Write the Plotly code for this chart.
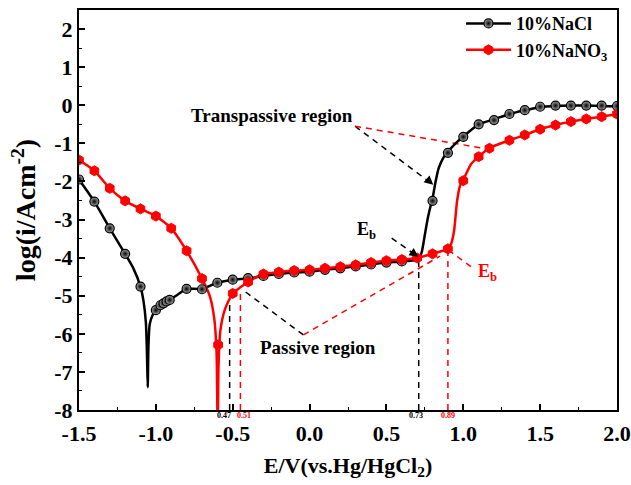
import plotly.graph_objects as go

# ---------------- data ----------------
nacl_line_x = [-1.50, -1.40, -1.30, -1.20, -1.15, -1.10, -1.08, -1.065, -1.058, -1.053, -1.048, -1.04,
               -1.02, -1.00, -0.97, -0.95, -0.91, -0.85, -0.80, -0.70, -0.60, -0.50, -0.40, -0.30,
               -0.20, -0.10, 0.00, 0.10, 0.20, 0.30, 0.40, 0.50, 0.60, 0.71, 0.73, 0.75, 0.77,
               0.79, 0.80, 0.82, 0.84, 0.87, 0.90, 0.95, 1.00, 1.10, 1.20, 1.30, 1.40, 1.50,
               1.60, 1.70, 1.80, 1.90, 2.00]
nacl_line_y = [-1.95, -2.53, -3.23, -3.90, -4.25, -4.76, -5.15, -5.70, -6.50, -7.40, -6.30, -5.75,
               -5.50, -5.38, -5.25, -5.20, -5.11, -4.95, -4.82, -4.82, -4.66, -4.58, -4.55, -4.48,
               -4.43, -4.39, -4.37, -4.32, -4.28, -4.23, -4.18, -4.13, -4.10, -4.04, -3.85, -3.40, -2.95,
               -2.60, -2.45, -2.00, -1.65, -1.38, -1.22, -1.00, -0.82, -0.50, -0.37, -0.23, -0.13, -0.05,
               -0.02, -0.01, -0.01, -0.02, -0.03]
nacl_mark_x = [-1.50, -1.40, -1.30, -1.20, -1.10, -1.00, -0.97, -0.95, -0.93, -0.91, -0.80, -0.70,
               -0.60, -0.50, -0.40, -0.30, -0.20, -0.10, 0.00, 0.10, 0.20, 0.30, 0.40, 0.50, 0.60,
               0.80, 0.90, 1.00, 1.10, 1.20, 1.30, 1.40, 1.50, 1.60, 1.70, 1.80, 1.90, 2.00]
nacl_mark_y = [-1.95, -2.53, -3.23, -3.90, -4.76, -5.38, -5.25, -5.20, -5.15, -5.11, -4.82, -4.83,
               -4.66, -4.58, -4.54, -4.48, -4.43, -4.39, -4.37, -4.32, -4.28, -4.23, -4.18, -4.13, -4.10,
               -2.51, -1.25, -0.83, -0.50, -0.39, -0.23, -0.13, -0.04, -0.01, -0.01, -0.01, -0.01, -0.02]

nano3_line_x = [-1.50, -1.40, -1.30, -1.20, -1.10, -1.00, -0.90, -0.80, -0.70, -0.65, -0.62, -0.605,
                -0.598, -0.592, -0.58, -0.55, -0.50, -0.45, -0.40, -0.30, -0.20, -0.10, 0.00, 0.10,
                0.20, 0.30, 0.40, 0.50, 0.60, 0.70, 0.80, 0.90, 0.92, 0.94, 0.95, 0.96, 0.98, 1.00,
                1.05, 1.10, 1.17, 1.20, 1.30, 1.40, 1.50, 1.60, 1.70, 1.80, 1.90, 2.00]
nano3_line_y = [-1.44, -1.72, -2.18, -2.51, -2.72, -2.91, -3.23, -3.82, -4.55, -5.00, -5.60, -6.50,
                -8.60, -6.80, -5.90, -5.35, -4.94, -4.78, -4.64, -4.43, -4.38, -4.34, -4.32, -4.28,
                -4.24, -4.19, -4.13, -4.08, -4.05, -4.01, -3.90, -3.77, -3.65, -3.30, -2.90, -2.50, -2.10, -1.96,
                -1.55, -1.35, -1.13, -1.07, -0.92, -0.78, -0.63, -0.52, -0.43, -0.36, -0.30, -0.23]
nano3_mark_x = [-1.50, -1.40, -1.30, -1.20, -1.10, -1.00, -0.90, -0.80, -0.70, -0.595, -0.50, -0.40,
                -0.30, -0.20, -0.10, 0.00, 0.10, 0.20, 0.30, 0.40, 0.50, 0.60, 0.70, 0.80, 0.90,
                1.00, 1.10, 1.17, 1.30, 1.40, 1.50, 1.60, 1.70, 1.80, 1.90, 2.00]
nano3_mark_y = [-1.44, -1.72, -2.18, -2.51, -2.72, -2.91, -3.23, -3.82, -4.55, -6.29, -4.94, -4.64,
                -4.43, -4.38, -4.34, -4.32, -4.28, -4.24, -4.19, -4.13, -4.08, -4.05, -4.01, -3.90, -3.77,
                -1.98, -1.35, -1.13, -0.92, -0.78, -0.63, -0.52, -0.43, -0.36, -0.30, -0.23]

series_names = ["<b>10%NaCl</b>", "<b>10%NaNO<sub>3</sub></b>"]

# potential markers (vertical dashed lines): x, top y, colour, label
vline_x = [-0.52, -0.45, 0.71, 0.90]
vline_top = [-5.20, -4.85, -4.04, -3.77]
vline_color = ["black", "red", "black", "red"]
vline_label = ["0.47", "0.51", "0.73", "0.89"]
vline_label_x = [-0.557, -0.426, 0.693, 0.899]

x_ticks = [-1.5, -1.0, -0.5, 0.0, 0.5, 1.0, 1.5, 2.0]
y_ticks = [-8, -7, -6, -5, -4, -3, -2, -1, 0, 1, 2]

FONT = "Liberation Serif, Times New Roman, serif"
RED = "#ff0000"

fig = go.Figure()

guides = [
    ([0.296, 0.805], [-0.55, -2.09], "black"),
    ([0.296, 1.13], [-0.55, -1.13], RED),
    ([0.534, 0.708], [-3.49, -3.98], "black"),
    ([0.903, 1.065], [-3.80, -4.28], RED),
    ([-0.04, -0.42], [-6.03, -4.89], "black"),
    ([-0.04, 0.849], [-6.03, -3.96], RED),
]
for gx, gy, gc in guides:
    fig.add_trace(go.Scatter(x=gx, y=gy, mode="lines", showlegend=False, hoverinfo="skip",
                             line=dict(color=gc, width=1.5, dash="6px,5px")))

for vx, vt, vc in zip(vline_x, vline_top, vline_color):
    fig.add_trace(go.Scatter(x=[vx, vx], y=[-8, vt], mode="lines", showlegend=False, hoverinfo="skip",
                             line=dict(color=vc, width=1.5, dash="6px,5px")))

fig.add_trace(go.Scatter(x=nacl_line_x, y=nacl_line_y, mode="lines", showlegend=False,
                         line=dict(color="black", width=2.5, shape="spline", smoothing=0.6)))
fig.add_trace(go.Scatter(x=nano3_line_x, y=nano3_line_y, mode="lines", showlegend=False,
                         line=dict(color=RED, width=2.5, shape="spline", smoothing=0.6)))

nacl_marker = dict(symbol="circle", size=9, color="#a8a8a8",
                   gradient=dict(type="radial", color="#000000"),
                   line=dict(color="black", width=1.2))
nano3_marker = dict(symbol="hexagon", size=10, color=RED, line=dict(color=RED, width=1))

fig.add_trace(go.Scatter(x=nacl_mark_x, y=nacl_mark_y, mode="markers", showlegend=False,
                         marker=nacl_marker))
fig.add_trace(go.Scatter(x=nano3_mark_x, y=nano3_mark_y, mode="markers", showlegend=False,
                         marker=nano3_marker))

fig.add_trace(go.Scatter(x=[None], y=[None], mode="lines+markers", name=series_names[0],
                         line=dict(color="black", width=2.5), marker=nacl_marker))
fig.add_trace(go.Scatter(x=[None], y=[None], mode="lines+markers", name=series_names[1],
                         line=dict(color=RED, width=2.5), marker=nano3_marker))

arrow_specs = [
    (0.805, -2.09, 0.76, -1.93, "black"),
    (0.708, -3.98, 0.66, -3.84, "black"),
]
for x1, y1, x0, y0, c in arrow_specs:
    fig.add_annotation(x=x1, y=y1, ax=x0, ay=y0, xref="x", yref="y", axref="x", ayref="y",
                       showarrow=True, arrowhead=2, arrowsize=1.2, arrowwidth=1.5,
                       arrowcolor=c, text="")

fig.add_annotation(x=0.296, y=-0.27, xanchor="right", text="<b>Transpassive region</b>", showarrow=False,
                   font=dict(family=FONT, size=19, color="black"))
fig.add_annotation(x=0.052, y=-6.37, text="<b>Passive region</b>", showarrow=False,
                   font=dict(family=FONT, size=19, color="black"))
fig.add_annotation(x=0.37, y=-3.30, text="<b>E<sub>b</sub></b>", showarrow=False,
                   font=dict(family=FONT, size=18, color="black"))
fig.add_annotation(x=1.16, y=-4.40, text="<b>E<sub>b</sub></b>", showarrow=False,
                   font=dict(family=FONT, size=18, color=RED))

for lx, lt, lc in zip(vline_label_x, vline_label, vline_color):
    fig.add_annotation(x=lx, y=-8, yanchor="top", yshift=1, text="<b>" + lt + "</b>", showarrow=False,
                       font=dict(family=FONT, size=8, color=lc))

fig.update_layout(
    width=631, height=485,
    margin=dict(l=79, r=14, t=10, b=75, autoexpand=False),
    paper_bgcolor="white", plot_bgcolor="white",
    font=dict(family=FONT, color="black"),
    showlegend=True,
    legend=dict(x=0.71, y=1.012, xanchor="left", yanchor="top", bgcolor="rgba(0,0,0,0)",
                font=dict(family=FONT, size=18, color="black"), itemwidth=45,
                tracegroupgap=0),
    xaxis=dict(range=[-1.5, 2.0], tickvals=x_ticks, ticktext=["<b>%.1f</b>" % v for v in x_ticks],
               ticks="inside", ticklen=6, tickwidth=1.5, tickcolor="black",
               minor=dict(dtick=0.25, ticks="inside", ticklen=3, tickwidth=1.2, tickcolor="black"),
               showline=True, linewidth=2, linecolor="black", mirror=True,
               showgrid=False, zeroline=False, ticklabelstandoff=3, automargin=False,
               tickfont=dict(family=FONT, size=22, color="black"),
               title=dict(text="<b>E/V(vs.Hg/HgCl<sub>2</sub>)</b>", standoff=12,
                          font=dict(family=FONT, size=22, color="black"))),
    yaxis=dict(range=[-8, 2.5], tickvals=y_ticks, ticktext=["<b>%d</b>" % v for v in y_ticks],
               ticks="inside", ticklen=6, tickwidth=1.5, tickcolor="black",
               minor=dict(dtick=0.5, ticks="inside", ticklen=3, tickwidth=1.2, tickcolor="black"),
               showline=True, linewidth=2, linecolor="black", mirror=True,
               showgrid=False, zeroline=False, automargin=False,
               tickfont=dict(family=FONT, size=22, color="black"),
               title=dict(text="<b>log(i/Acm<sup>-2</sup>)</b>", standoff=10,
                          font=dict(family=FONT, size=28, color="black"))),
)

fig.write_html("out.html")
